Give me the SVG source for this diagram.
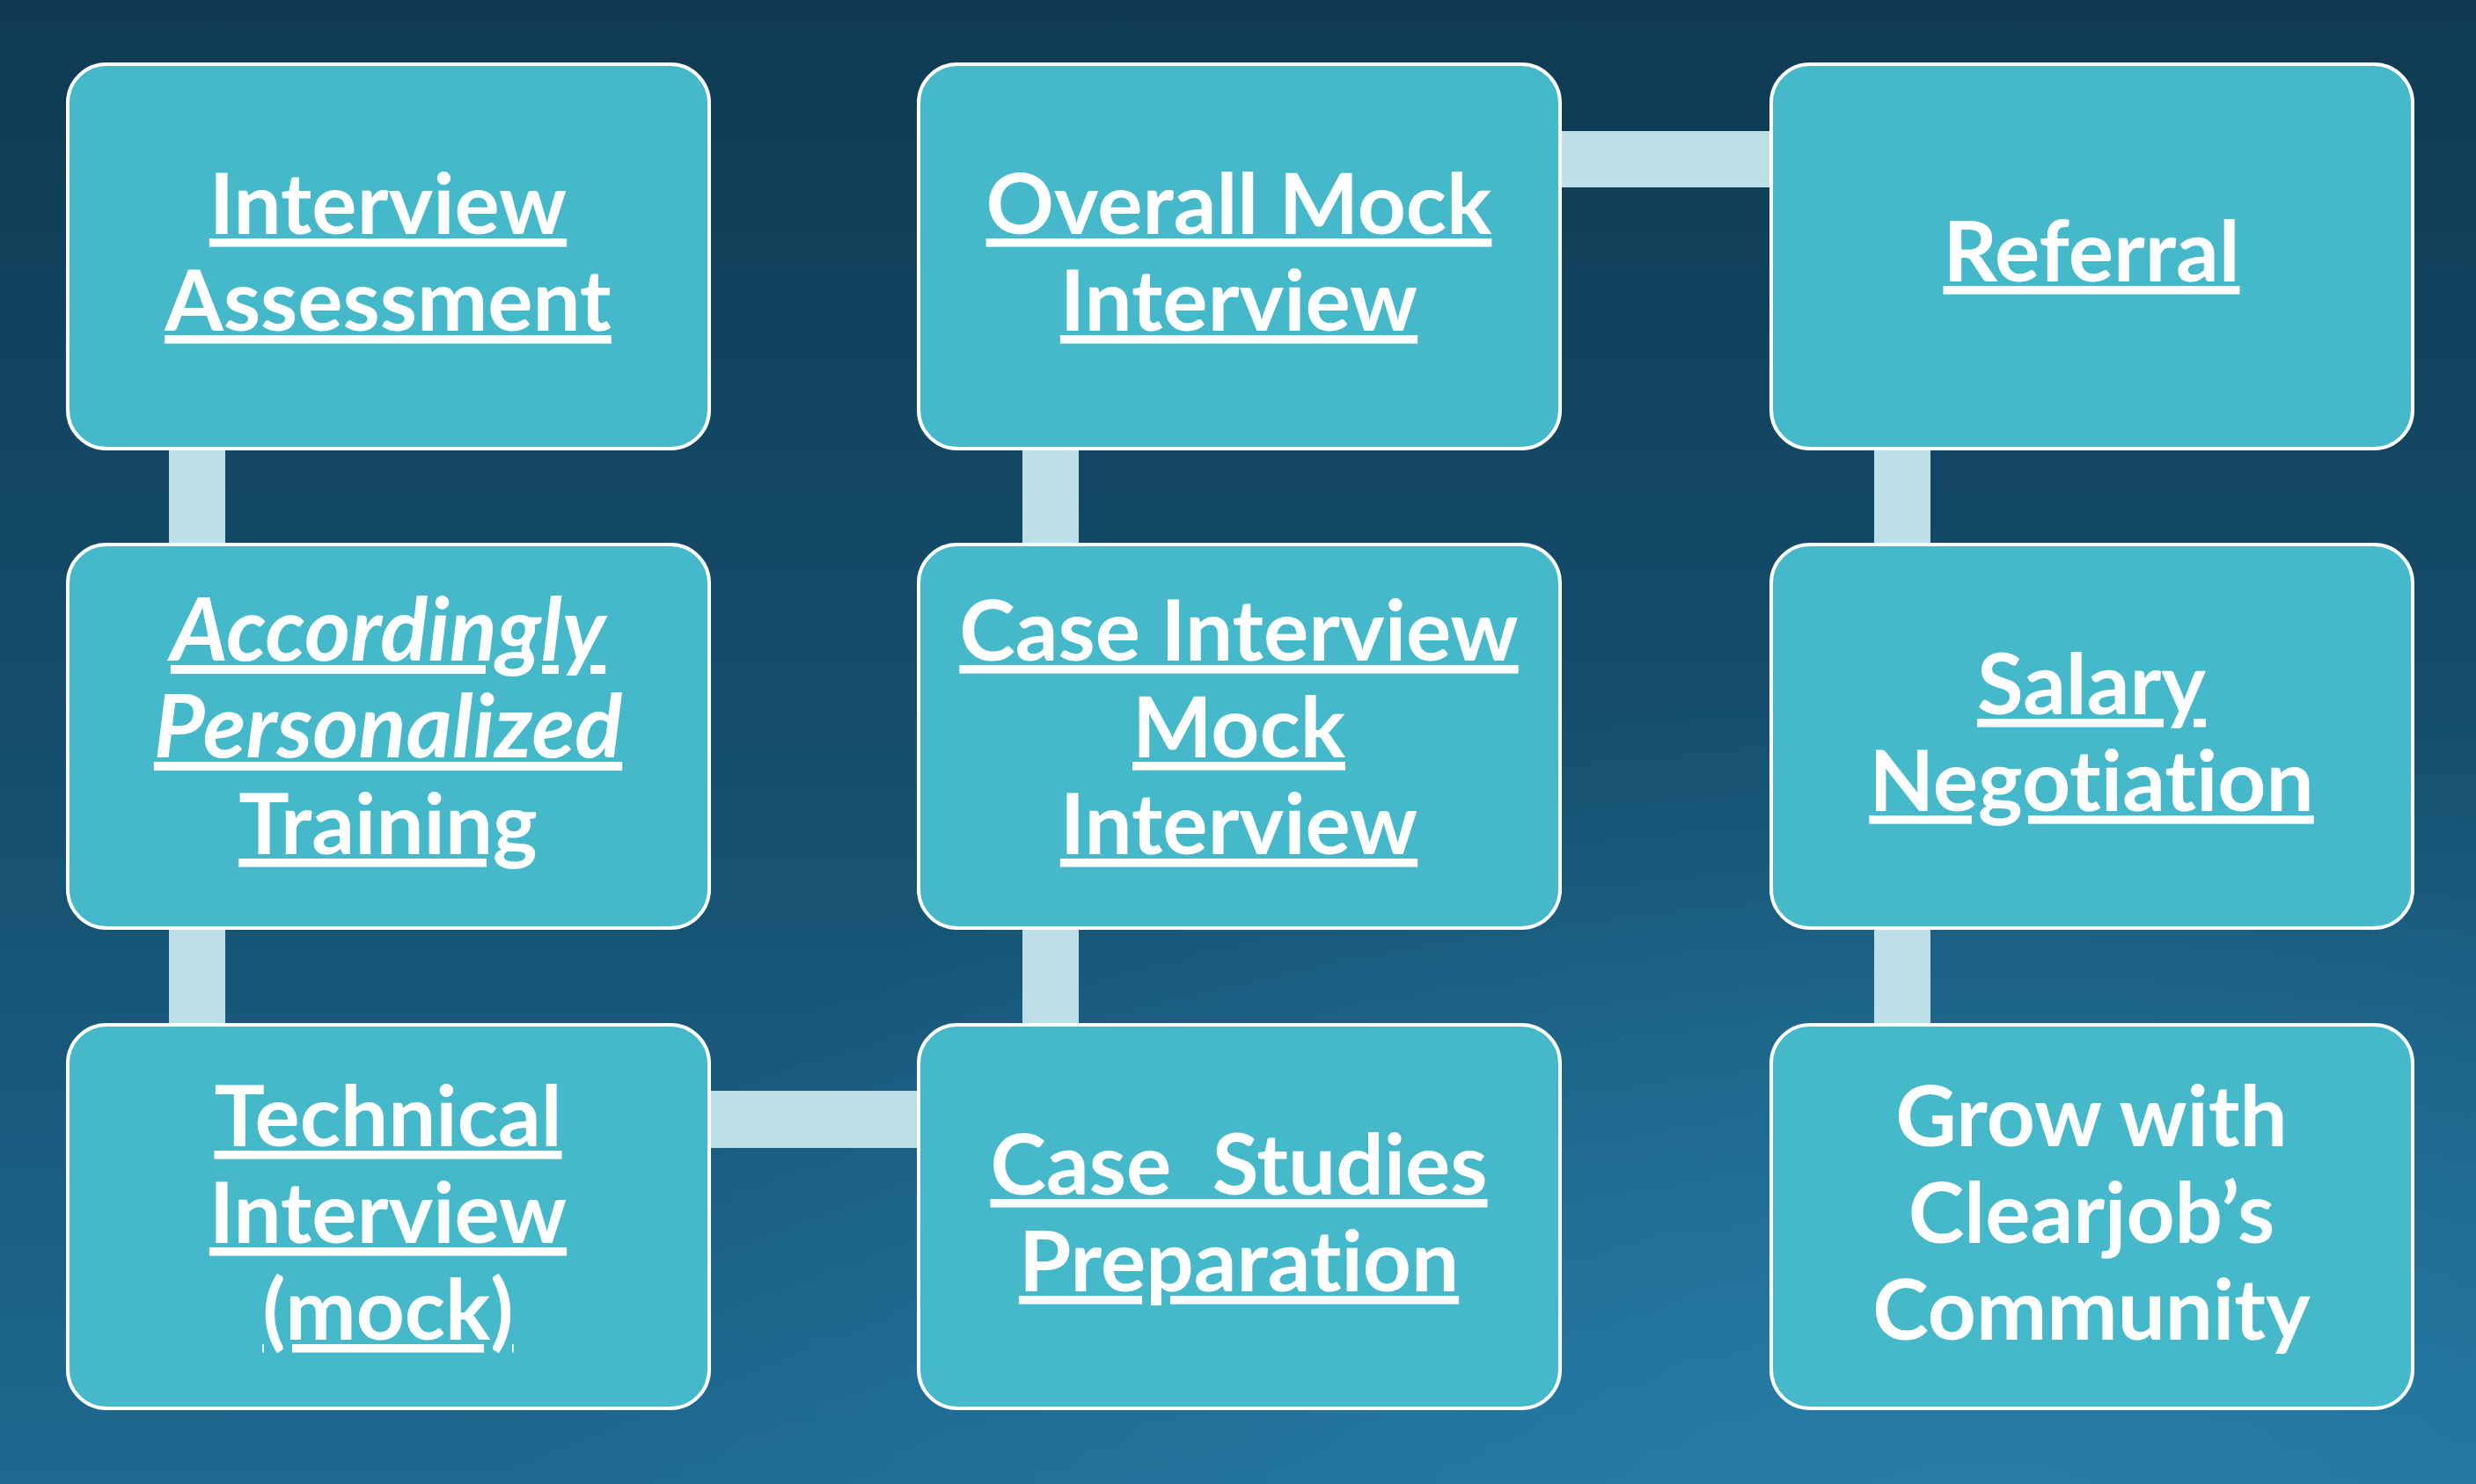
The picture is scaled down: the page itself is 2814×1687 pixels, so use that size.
<svg xmlns="http://www.w3.org/2000/svg" width="2814" height="1687" viewBox="0 0 2814 1687">
<defs>
<linearGradient id="bg" x1="0" y1="0" x2="0" y2="1">
<stop offset="0" stop-color="#0f3a52"/>
<stop offset="0.55" stop-color="#15506f"/>
<stop offset="1" stop-color="#1e6990"/>
</linearGradient>
<radialGradient id="glow" cx="0.8" cy="1.05" r="0.6">
<stop offset="0" stop-color="#2a84b0" stop-opacity="0.8"/>
<stop offset="1" stop-color="#2a84b0" stop-opacity="0"/>
</radialGradient>
<style>
.box{fill:#45b8c9;stroke:#ffffff;stroke-width:4}
.conn{fill:#bcdfe8}
.t{font-family:Lato,"Liberation Sans",sans-serif;font-weight:bold;font-size:96px;fill:#ffffff;text-anchor:middle;font-variant-ligatures:none;font-feature-settings:"liga" 0,"clig" 0}
.u{text-decoration:underline;text-decoration-thickness:8px;text-underline-offset:10px;text-decoration-skip-ink:none}
.i{font-style:italic;font-size:100px}
</style>
</defs>
<rect width="2814" height="1687" fill="url(#bg)"/>
<rect width="2814" height="1687" fill="url(#glow)"/>
<g id="connectors">
<rect class="conn" x="192" y="510" width="64" height="109"/>
<rect class="conn" x="192" y="1055" width="64" height="110"/>
<rect class="conn" x="806" y="1240" width="238" height="65"/>
<rect class="conn" x="1162" y="1055" width="64" height="110"/>
<rect class="conn" x="1162" y="510" width="64" height="109"/>
<rect class="conn" x="1773" y="149" width="240" height="64"/>
<rect class="conn" x="2130" y="510" width="64" height="109"/>
<rect class="conn" x="2130" y="1055" width="64" height="110"/>
</g>
<g id="n1">
<rect class="box" x="77" y="73" width="729" height="437" rx="44"/>
<text class="t u" x="441" y="266">Interview</text>
<text class="t u" x="441" y="376">Assessment</text>
</g>
<g id="n2">
<rect class="box" x="77" y="619" width="729" height="436" rx="44"/>
<text class="t u i" x="441" y="751">Accordingly</text>
<text class="t u i" x="441" y="861">Personalized</text>
<text class="t u" x="441" y="971">Training</text>
</g>
<g id="n3">
<rect class="box" x="77" y="1165" width="729" height="436" rx="44"/>
<text class="t u" x="441" y="1303">Technical</text>
<text class="t u" x="441" y="1413">Interview</text>
<text class="t u" x="441" y="1523">(mock)</text>
</g>
<g id="n4">
<rect class="box" x="1044" y="73" width="729" height="437" rx="44"/>
<text class="t u" x="1408" y="266">Overall Mock</text>
<text class="t u" x="1408" y="376">Interview</text>
</g>
<g id="n5">
<rect class="box" x="1044" y="619" width="729" height="436" rx="44"/>
<text class="t u" x="1408" y="751">Case Interview</text>
<text class="t u" x="1408" y="861">Mock</text>
<text class="t u" x="1408" y="971">Interview</text>
</g>
<g id="n6">
<rect class="box" x="1044" y="1165" width="729" height="436" rx="44"/>
<text class="t u" x="1408" y="1358" xml:space="preserve">Case  Studies</text>
<text class="t u" x="1408" y="1468">Preparation</text>
</g>
<g id="n7">
<rect class="box" x="2013" y="73" width="729" height="437" rx="44"/>
<text class="t u" x="2377" y="320">Referral</text>
</g>
<g id="n8">
<rect class="box" x="2013" y="619" width="729" height="436" rx="44"/>
<text class="t u" x="2377" y="812">Salary</text>
<text class="t u" x="2377" y="922">Negotiation</text>
</g>
<g id="n9">
<rect class="box" x="2013" y="1165" width="729" height="436" rx="44"/>
<text class="t" x="2377" y="1303">Grow with</text>
<text class="t" x="2377" y="1413">Clearjob’s</text>
<text class="t" x="2377" y="1523">Community</text>
</g>
</svg>
